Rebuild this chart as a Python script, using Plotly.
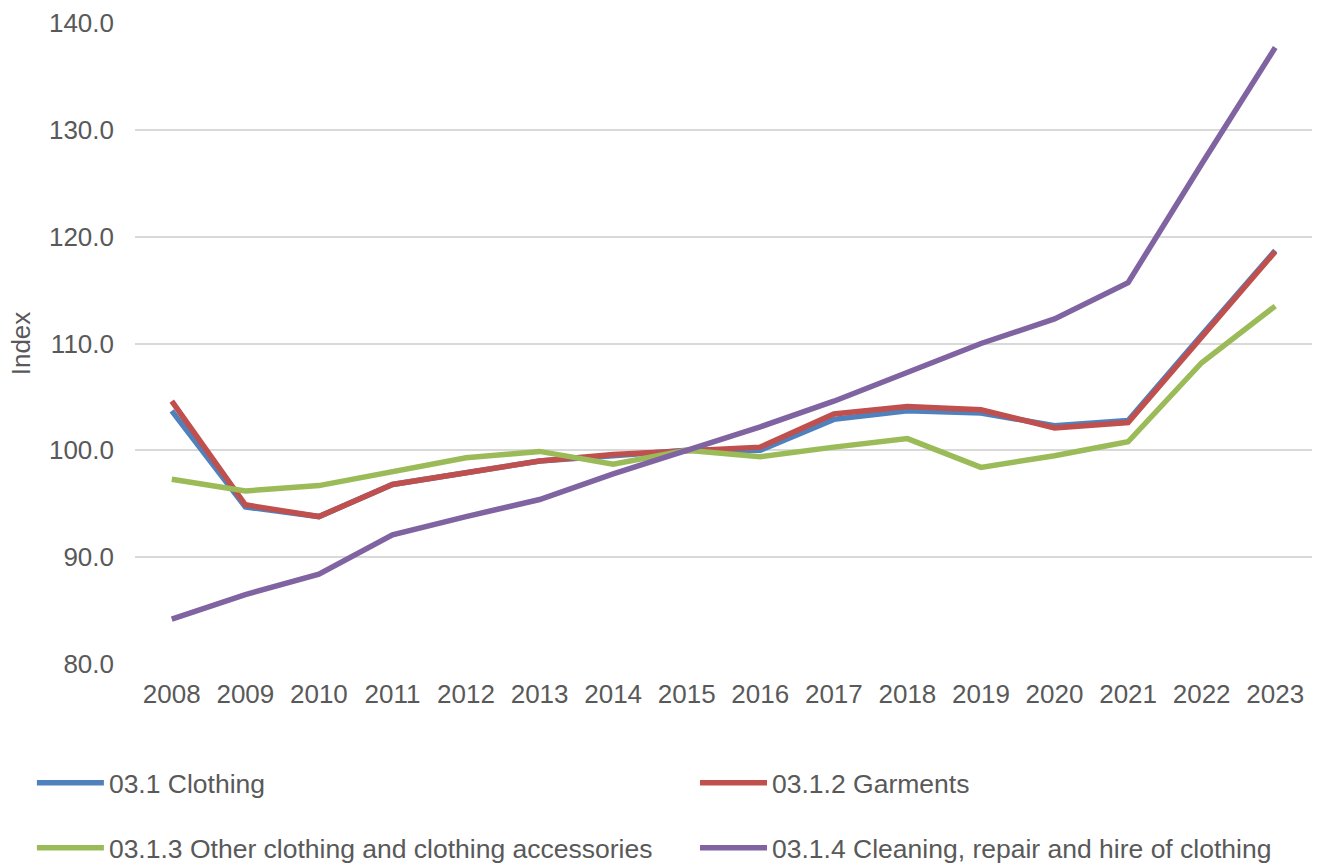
import plotly.graph_objects as go

years = [str(y) for y in range(2008, 2024)]

clothing = [103.7, 94.7, 93.8, 96.8, 97.9, 99.0, 99.5, 100.0, 100.0, 102.9, 103.7, 103.5, 102.3, 102.8, 110.8, 118.7]
garments = [104.6, 94.9, 93.8, 96.8, 97.9, 99.0, 99.6, 100.0, 100.3, 103.4, 104.1, 103.8, 102.1, 102.6, 110.6, 118.6]
other_acc = [97.3, 96.2, 96.7, 98.0, 99.3, 99.9, 98.7, 100.0, 99.4, 100.3, 101.1, 98.4, 99.5, 100.8, 108.2, 113.5]
cleaning = [84.2, 86.5, 88.4, 92.1, 93.8, 95.4, 97.8, 100.0, 102.2, 104.6, 107.3, 110.0, 112.3, 115.7, 126.8, 137.7]

y_ticks = [80, 90, 100, 110, 120, 130, 140]

# (name, values, colour, legend id, legend x, legend y) - one legend per entry
# so the entries sit in a two-by-two grid under the plot
series = [
    ("03.1 Clothing", clothing, "#4F81BD", "legend", -0.0876, -0.1856),
    ("03.1.2 Garments", garments, "#C0504D", "legend2", 0.4758, -0.1856),
    ("03.1.3 Other clothing and clothing accessories", other_acc, "#9BBB59", "legend3", -0.0876, -0.287),
    ("03.1.4 Cleaning, repair and hire of clothing", cleaning, "#8064A2", "legend4", 0.4758, -0.287),
]

font_family = "Liberation Sans, Arial, sans-serif"
text_color = "#595959"

fig = go.Figure()
legends = {}
for name, vals, color, leg, lx, ly in series:
    fig.add_trace(go.Scatter(
        x=years, y=vals, name=name, mode="lines",
        line=dict(color=color, width=5.5),
        legend=leg, showlegend=True,
    ))
    legends[leg] = dict(
        x=lx, y=ly, xanchor="left", yanchor="middle",
        font=dict(family=font_family, size=26.5, color=text_color),
        itemwidth=67, bgcolor="rgba(0,0,0,0)", visible=True,
    )

fig.update_layout(
    width=1321, height=867,
    showlegend=True,
    margin=dict(l=135, r=9, t=23, b=203, autoexpand=False),
    plot_bgcolor="white", paper_bgcolor="white",
    font=dict(family=font_family, size=26, color=text_color),
    xaxis=dict(
        type="category", range=[-0.5, 15.5],
        showgrid=False, showline=False, ticks="", automargin=False,
        tickfont=dict(size=26, color=text_color), ticklabelstandoff=12,
    ),
    yaxis=dict(
        range=[80, 140], tickvals=y_ticks,
        ticktext=[f"{v:.1f}" for v in y_ticks],
        showgrid=True, gridcolor="#D9D9D9", gridwidth=1.5,
        zeroline=False, showline=False, ticks="", automargin=False,
        tickfont=dict(size=26, color=text_color), ticklabelstandoff=20,
        title=dict(text="Index", font=dict(size=26, color=text_color), standoff=10),
    ),
    **legends,
)

fig.write_html("out.html")
